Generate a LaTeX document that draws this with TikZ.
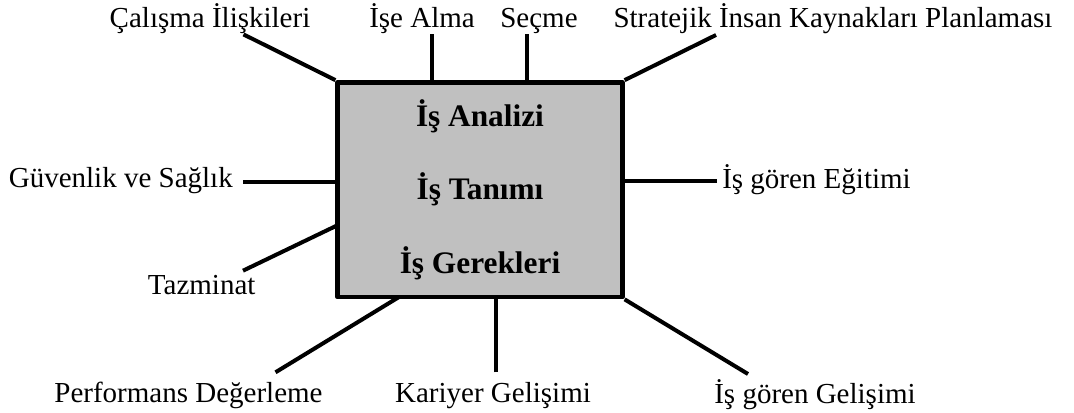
\documentclass[tikz,border=0pt]{standalone}
\usepackage{fontspec}
\setmainfont{Liberation Serif}
\usetikzlibrary{backgrounds}
\definecolor{boxgray}{RGB}{192,192,192}

\begin{document}
\begin{tikzpicture}[line join = round, x=0.75pt, y=-0.75pt,
		lbl/.style={font=\fontsize{21.75}{26}\selectfont, inner sep=0pt, anchor=base},
		spoke/.style={line width=3pt},
		jobbox/.style={draw, line width=3.5pt, fill=boxgray, align=center,
			minimum width=213.4pt, minimum height=160.9pt,
			font=\bfseries\fontsize{23.5}{55.3}\selectfont}]
	\useasboundingbox (0,0) rectangle (1074,412);
	% central box
	\node[jobbox] (job) at (480,189.75) {İş Analizi\\İş Tanımı\\İş Gerekleri};
	% labels
	\node[lbl] (cal) at (210,27.5) {Çalışma İlişkileri};
	\node[lbl] (ise) at (422,27.5) {İşe Alma};
	\node[lbl] (sec) at (539,27.5) {Seçme};
	\node[lbl] (str) at (833,27.5) {Stratejik İnsan Kaynakları Planlaması};
	\node[lbl, anchor=base east] (guv) at (233,187.3) {Güvenlik ve Sağlık};
	\node[lbl, anchor=base west] (egi) at (722,188) {İş gören Eğitimi};
	\node[lbl] (taz) at (201.7,294) {Tazminat};
	\node[lbl] (per) at (188.5,402.6) {Performans Değerleme};
	\node[lbl] (kar) at (493,402.6) {Kariyer Gelişimi};
	\node[lbl] (gel) at (815,403.5) {İş gören Gelişimi};
	\path
	(243.5,34.4) coordinate (c-cal)
	(432,34.4) coordinate (c-ise)
	(527,34.4) coordinate (c-sec)
	(716,35) coordinate (c-str)
	(243,181.5) coordinate (c-guv)
	(717,181) coordinate (c-egi)
	(243,270.7) coordinate (c-taz)
	(338,225) coordinate (taz-in)
	(275.5,372.3) coordinate (c-per)
	(399,297) coordinate (per-in)
	(496,372.3) coordinate (c-kar)
	(748,374) coordinate (c-gel)
	;
	\begin{scope}[on background layer]
		\foreach \a/\b in {c-cal/job.north west, c-ise/c-ise |- job.north, c-sec/c-sec |- job.north,
			c-str/job.north east, c-guv/c-guv -| job.west, c-egi/c-egi -| job.east, c-taz/taz-in,
			c-per/per-in, c-kar/c-kar |- job.south, c-gel/job.south east}
		\draw[spoke] (\a) -- (\b);
	\end{scope}
\end{tikzpicture}
\end{document}
